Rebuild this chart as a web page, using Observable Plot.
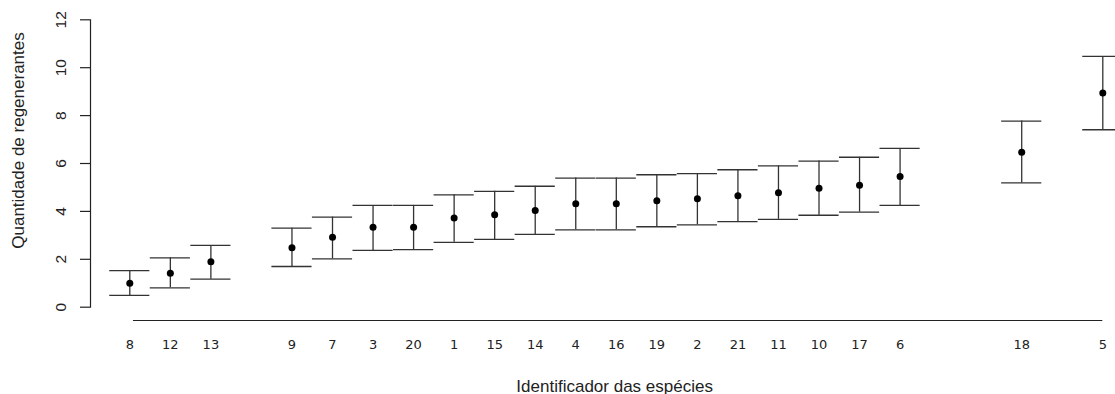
<!DOCTYPE html>
<html>
<head>
<meta charset="utf-8">
<script src="https://cdn.jsdelivr.net/npm/d3@7"></script>
<script src="https://cdn.jsdelivr.net/npm/@observablehq/plot@0.6"></script>
<style>
  html, body { margin: 0; padding: 0; background: #fff; }
  #chart svg { display: block; }
</style>
</head>
<body>
<div id="chart"></div>
<script>
// Species identifiers, in plotted order
const species = ["8","12","13","9","7","3","20","1","15","14","4","16","19","2","21","11","10","17","6","18","5"];
// Slot position along the x axis (gaps after 13, after 6, after 18)
const slots   = [0,1,2,4,5,6,7,8,9,10,11,12,13,14,15,16,17,18,19,22,24];
// Mean number of regenerants
const means   = [1.00,1.42,1.90,2.48,2.92,3.34,3.34,3.72,3.86,4.04,4.32,4.32,4.44,4.53,4.65,4.78,4.97,5.09,5.46,6.47,8.94];
// Lower and upper limits of the interval
const lower   = [0.49,0.81,1.17,1.70,2.02,2.37,2.40,2.71,2.83,3.04,3.23,3.23,3.36,3.44,3.57,3.67,3.84,3.97,4.25,5.19,7.41];
const upper   = [1.53,2.06,2.58,3.30,3.76,4.25,4.25,4.69,4.84,5.05,5.39,5.39,5.53,5.58,5.74,5.90,6.10,6.26,6.63,7.77,10.47];
// Y tick values
const yTicks  = [0,2,4,6,8,10,12];

const xTitle = "Identificador das espécies";
const yTitle = "Quantidade de regenerantes";

const data = species.map((s, i) => ({id: s, pos: slots[i], mean: means[i], lo: lower[i], hi: upper[i]}));

const capHalf = 0.495;
const lineColor = "#333";
const W = 1115, H = 394;
const mTop = 19.3, mBottom = H - 306.7, mLeft = 90, mRight = W - 1102.3;
const step = (1102.3 - 129.3) / 24;
const xMin = -(129.3 - mLeft) / step;

const chart = Plot.plot({
  width: W,
  height: H,
  marginTop: mTop,
  marginBottom: mBottom,
  marginLeft: mLeft,
  marginRight: mRight,
  style: {background: "#fff", overflow: "visible"},
  x: {domain: [xMin, d3.max(slots)], axis: null},
  y: {domain: [0, 12], axis: null},
  marks: [
    // y axis line
    Plot.frame({anchor: "left", stroke: "#222", strokeWidth: 1.2}),
    // y ticks
    Plot.axisY(yTicks, {anchor: "left", tickSize: 10, text: null, stroke: "#222", strokeWidth: 1.2, label: null}),
    // y tick labels (rotated, R style)
    Plot.text(yTicks, {y: d => d, text: d => String(d), frameAnchor: "left", rotate: -90, textAnchor: "middle", lineAnchor: "bottom", dx: -25, fontSize: 15.5, fontFamily: "Liberation Sans, Arial, sans-serif", fill: "#222"}),
    // y title
    Plot.text([yTitle], {frameAnchor: "left", rotate: -90, textAnchor: "middle", lineAnchor: "middle", dx: -71.5, dy: -23, fontSize: 17, fontFamily: "Liberation Sans, Arial, sans-serif", fill: "#222"}),
    // x axis line (offset below the plot)
    Plot.ruleY([0], {x1: d3.min(slots) + 0.09, x2: d3.max(slots), dy: 13.3, stroke: "#222", strokeWidth: 1.2}),
    // x tick labels
    Plot.text(data, {x: "pos", text: "id", frameAnchor: "bottom", lineAnchor: "middle", dy: 37.3, fontSize: 13, fontFamily: "DejaVu Sans, Verdana, sans-serif", fill: "#222"}),
    // x title
    Plot.text([xTitle], {frameAnchor: "bottom", textAnchor: "middle", lineAnchor: "bottom", dx: 18, dy: 85, fontSize: 17, fontFamily: "Liberation Sans, Arial, sans-serif", fill: "#222"}),
    // error bars
    Plot.ruleX(data, {x: "pos", y1: "lo", y2: "hi", stroke: lineColor, strokeWidth: 1.3}),
    Plot.ruleY(data, {y: "hi", x1: d => d.pos - capHalf, x2: d => d.pos + capHalf, stroke: lineColor, strokeWidth: 1.3}),
    Plot.ruleY(data, {y: "lo", x1: d => d.pos - capHalf, x2: d => d.pos + capHalf, stroke: lineColor, strokeWidth: 1.3}),
    // means
    Plot.dot(data, {x: "pos", y: "mean", r: 3.5, fill: "#000", stroke: "none"})
  ]
});
document.getElementById("chart").appendChild(chart);
</script>
</body>
</html>
